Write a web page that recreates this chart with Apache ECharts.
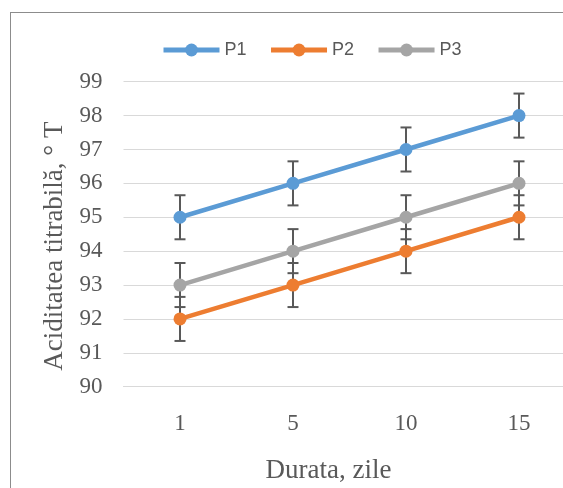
<!DOCTYPE html>
<html>
<head>
<meta charset="utf-8">
<script src="https://cdn.jsdelivr.net/npm/echarts@6/dist/echarts.min.js"></script>
<style>
html,body{margin:0;padding:0;background:#fff;overflow:hidden;}
#wrap{position:relative;width:563px;height:488px;overflow:hidden;}
#c{position:absolute;left:0;top:0;width:563px;height:488px;}
#frame{position:absolute;left:10px;top:12px;width:800px;height:800px;border-left:1px solid #8c8c8c;border-top:1px solid #8c8c8c;pointer-events:none;}
</style>
</head>
<body>
<div id="wrap"><div id="c"></div><div id="frame"></div></div>
<script>
var categories = ['1', '5', '10', '15'];
var p1 = [95, 96, 97, 98];
var p2 = [92, 93, 94, 95];
var p3 = [93, 94, 95, 96];
var errP1 = [0.65, 0.65, 0.65, 0.65];
var errP2 = [0.65, 0.65, 0.65, 0.65];
var errP3 = [0.65, 0.65, 0.65, 0.65];
var seriesNames = ['P1', 'P2', 'P3'];
var colors = ['#5B9BD5', '#ED7D31', '#A5A5A5'];

var chart = echarts.init(document.getElementById('c'), null, {renderer: 'canvas'});

function errData(vals, errs) {
  return vals.map(function (v, i) { return [i, v - errs[i], v + errs[i]]; });
}
function errSeries(vals, errs) {
  return {
    type: 'custom',
    z: 1,
    silent: true,
    data: errData(vals, errs),
    renderItem: function (params, api) {
      var x = api.value(0);
      var lo = api.coord([x, api.value(1)]);
      var hi = api.coord([x, api.value(2)]);
      var hw = 5.5;
      var st = {stroke: '#595959', lineWidth: 2, fill: null};
      return {
        type: 'group',
        children: [
          {type: 'line', shape: {x1: lo[0], y1: lo[1], x2: hi[0], y2: hi[1]}, style: st},
          {type: 'line', shape: {x1: lo[0] - hw, y1: lo[1], x2: lo[0] + hw, y2: lo[1]}, style: st},
          {type: 'line', shape: {x1: hi[0] - hw, y1: hi[1], x2: hi[0] + hw, y2: hi[1]}, style: st}
        ]
      };
    }
  };
}
function lineSeries(name, vals, color) {
  return {
    name: name,
    type: 'line',
    z: 3,
    data: vals,
    symbol: 'circle',
    symbolSize: 13,
    itemStyle: {color: color},
    lineStyle: {color: color, width: 4.5}
  };
}

var serifFont = '"Liberation Serif", "Times New Roman", serif';

chart.setOption({
  animation: false,
  color: colors,
  legend: {
    left: 156,
    top: 36,
    itemWidth: 56,
    itemHeight: 16,
    itemGap: 22,
    data: seriesNames,
    lineStyle: {width: 5},
    textStyle: {fontFamily: '"Liberation Sans", Arial, sans-serif', fontSize: 18, color: '#595959'}
  },
  grid: {
    left: 123.5,
    top: 81.7,
    width: 452,
    height: 305,
    containLabel: false,
    outerBoundsMode: 'none'
  },
  xAxis: {
    type: 'category',
    data: categories,
    boundaryGap: true,
    axisLine: {show: true, lineStyle: {color: '#d9d9d9', width: 1}},
    axisTick: {show: false},
    axisLabel: {fontFamily: serifFont, fontSize: 23, color: '#595959', margin: 26},
    name: 'Durata, zile',
    nameLocation: 'middle',
    nameGap: 71,
    nameTextStyle: {fontFamily: serifFont, fontSize: 27, color: '#595959', padding: [0, 42, 0, 0]}
  },
  yAxis: {
    type: 'value',
    min: 90,
    max: 99,
    interval: 1,
    axisLine: {show: false},
    axisTick: {show: false},
    splitLine: {show: true, lineStyle: {color: '#d9d9d9', width: 1}},
    axisLabel: {fontFamily: serifFont, fontSize: 23, color: '#595959', margin: 21},
    name: 'Aciditatea titrabilă, ° T',
    nameLocation: 'middle',
    nameGap: 52,
    nameRotate: 90,
    nameTextStyle: {fontFamily: serifFont, fontSize: 27, color: '#595959', padding: [0, 24, 0, 0]}
  },
  series: [
    errSeries(p1, errP1),
    errSeries(p2, errP2),
    errSeries(p3, errP3),
    lineSeries('P1', p1, colors[0]),
    lineSeries('P2', p2, colors[1]),
    lineSeries('P3', p3, colors[2])
  ]
});
</script>
</body>
</html>
